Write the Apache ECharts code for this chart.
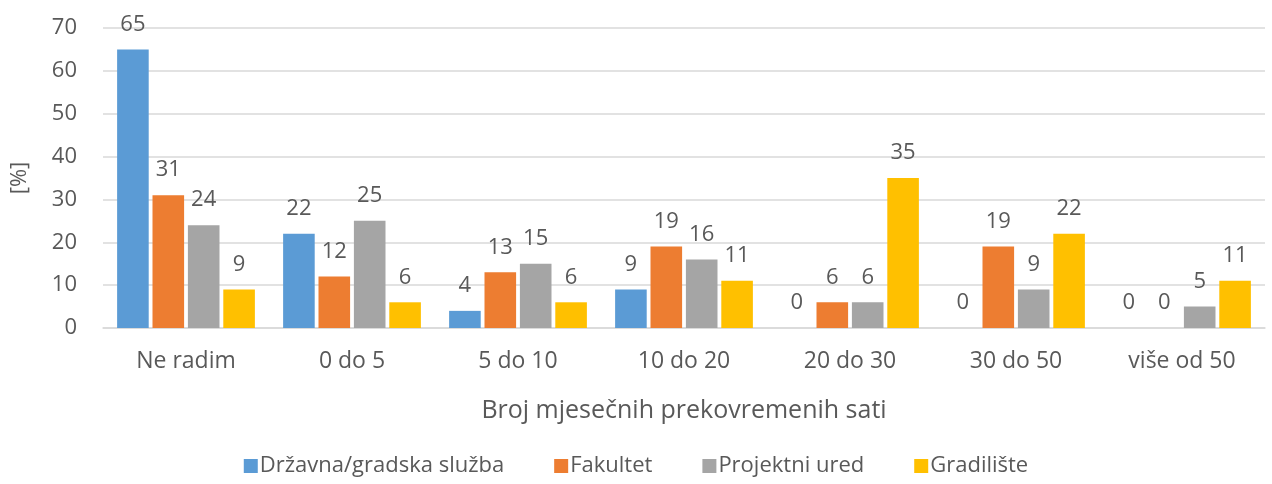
<!DOCTYPE html>
<html>
<head>
<meta charset="utf-8">
<script src="https://cdn.jsdelivr.net/npm/echarts@6/dist/echarts.min.js"></script>
<style>
  html, body { margin: 0; padding: 0; background: #fff; }
  #chart { width: 1272px; height: 484px; }
</style>
</head>
<body>
<div id="chart"></div>
<script>
// kategorije i vrijednosti
const categories = ['Ne radim', '0 do 5', '5 do 10', '10 do 20', '20 do 30', '30 do 50', 'više od 50'];
const seriesNames = ['Državna/gradska služba', 'Fakultet', 'Projektni ured', 'Gradilište'];
const drzavna = [65, 22, 4, 9, 0, 0, 0];
const fakultet = [31, 12, 13, 19, 6, 19, 0];
const projektni = [24, 25, 15, 16, 6, 9, 5];
const gradiliste = [9, 6, 6, 11, 35, 22, 11];
const colors = ['#5B9BD5', '#ED7D31', '#A5A5A5', '#FFC000'];

let chart = echarts.init(document.getElementById('chart'));

const textColor = '#595959';
const font = 'Open Sans';

function makeSeries(name, data, color) {
    return {
        name: name,
        type: 'bar',
        data: data,
        barGap: '12%',
        barCategoryGap: '17%',
        itemStyle: { color: color },
        label: {
            show: true,
            position: 'top',
            distance: 14,
            color: textColor,
            fontFamily: font,
            fontSize: 22
        }
    };
}

let option = {
    animation: false,
    textStyle: { fontFamily: font },
    grid: { left: 103, right: 7, top: 28, bottom: 156 },
    legend: {
        bottom: 2,
        left: 'center',
        itemWidth: 14,
        itemHeight: 14,
        itemGap: 50,
        icon: 'rect',
        textStyle: { color: textColor, fontFamily: font, fontSize: 22, padding: [0, 0, 0, -3] },
        data: seriesNames
    },
    xAxis: {
        type: 'category',
        data: categories,
        name: 'Broj mjesečnih prekovremenih sati',
        nameLocation: 'middle',
        nameGap: 70,
        nameTextStyle: { color: textColor, fontFamily: font, fontSize: 25 },
        axisLine: { lineStyle: { color: '#d9d9d9', width: 1.5 } },
        axisTick: { show: false },
        axisLabel: { color: textColor, fontFamily: font, fontSize: 23, margin: 22 }
    },
    yAxis: {
        type: 'value',
        min: 0,
        max: 70,
        interval: 10,
        name: '[%]',
        nameLocation: 'middle',
        nameGap: 72,
        nameRotate: 90,
        nameTextStyle: { color: textColor, fontFamily: font, fontSize: 22 },
        axisLabel: { color: textColor, fontFamily: font, fontSize: 22, margin: 26, align: 'right' },
        splitLine: { lineStyle: { color: '#d9d9d9', width: 1.5 } }
    },
    series: [
        makeSeries(seriesNames[0], drzavna, colors[0]),
        makeSeries(seriesNames[1], fakultet, colors[1]),
        makeSeries(seriesNames[2], projektni, colors[2]),
        makeSeries(seriesNames[3], gradiliste, colors[3])
    ]
};

chart.setOption(option);
</script>
</body>
</html>
